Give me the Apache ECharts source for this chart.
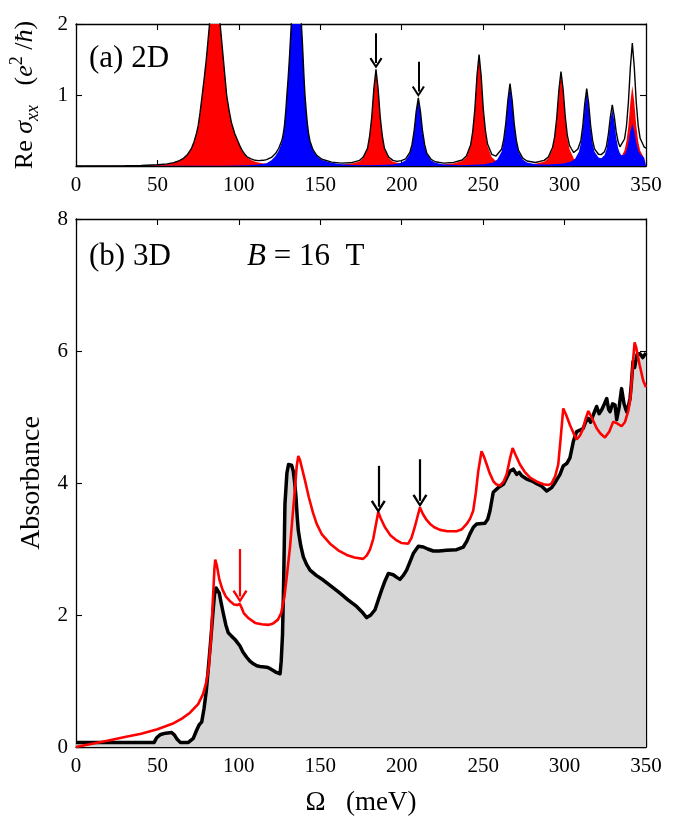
<!DOCTYPE html>
<html>
<head>
<meta charset="utf-8">
<script src="https://cdn.jsdelivr.net/npm/echarts@6/dist/echarts.min.js"></script>
<style>
  html, body { margin: 0; padding: 0; background: #fff; }
  #chart { width: 681px; height: 821px; }
</style>
</head>
<body>
<div id="chart"></div>
<script>
// (a) 2D : Re sigma_xx, red / blue transitions and their sum (black)
var redPeaks = [
  [0,0],[30,0.003],[40,0.006],[50,0.014],[56,0.028],[60,0.045],[62,0.06],[64,0.08],[66,0.105],[68.5,0.16],[71,0.25],[72.5,0.34],[73.8,0.44],[75,0.56],[76.2,0.75],[77.5,1.0],[78.8,1.25],[80,1.5],[81,1.75],[82,2.0],[84,2.6],[85.5,2.8],[87,2.6],[88.5,2.0],[89.5,1.75],[90.5,1.5],[91.5,1.25],[92.5,1.0],[94,0.78],[95.5,0.6],[97.5,0.45],[99.5,0.34],[101,0.26],[102,0.21],[103.5,0.16],[105,0.12],[107.5,0.085],[110,0.06],[112.5,0.045],[115,0.035],[125,0.018],[140,0.01],[158,0.01],
  [168.6,0.03],[173.8,0.06],[176.4,0.11],[179,0.24],[180.3,0.41],[181.6,0.68],[182.9,1.08],[184.2,1.35],[185.5,1.08],[186.8,0.68],[188.1,0.41],[189.4,0.24],[192,0.11],[194.6,0.06],[199.8,0.03],[210,0.012],[221.5,0.015],
  [231.9,0.035],[237.1,0.07],[239.7,0.125],[242.3,0.28],[243.6,0.47],[244.9,0.78],[246.2,1.25],[247.5,1.56],[248.8,1.25],[250.1,0.78],[251.4,0.47],[252.7,0.28],[255.3,0.125],[257.9,0.07],[263.1,0.035],[273.5,0.015],
  [282.2,0.03],[287.4,0.06],[290,0.105],[292.6,0.24],[293.9,0.39],[295.2,0.66],[296.5,1.05],[297.8,1.31],[299.1,1.05],[300.4,0.66],[301.7,0.39],[303,0.24],[305.6,0.105],[308.2,0.065],[313.4,0.035],[320,0.035],[327.2,0.05],
  [332,0.08],[334.4,0.11],[336.8,0.22],[338,0.35],[339.2,0.57],[340.4,0.9],[341.6,1.13],[342.8,0.9],[344,0.57],[345.2,0.35],[346.4,0.22],[348.8,0.11],[350,0.09]
];
var bluePeaks = [
  [0,0],[60,0.002],[90,0.004],[105,0.01],[112,0.02],[117,0.04],[120,0.08],[122.5,0.14],[124.5,0.22],[126.5,0.34],[127.3,0.44],[128,0.55],[128.8,0.76],[129.5,1.0],[130.3,1.25],[131,1.5],[131.6,1.75],[132.2,2.0],[133.8,2.6],[135.3,2.8],[136.8,2.6],[138.4,2.0],[139,1.75],[139.5,1.5],[140,1.25],[140.6,1.0],[141.3,0.78],[142,0.6],[142.8,0.45],[143.7,0.34],[145.5,0.22],[147.8,0.14],[151,0.085],[157,0.045],[163,0.025],[170,0.015],[180,0.01],
  [194.6,0.02],[199.8,0.045],[202.4,0.08],[205,0.17],[206.3,0.285],[207.6,0.475],[208.9,0.76],[210.2,0.95],[211.5,0.76],[212.8,0.475],[214.1,0.285],[215.4,0.17],[218,0.08],[220.6,0.045],[225.8,0.02],[236.2,0.01],
  [250.9,0.025],[256.1,0.05],[258.7,0.09],[261.3,0.2],[262.6,0.34],[263.9,0.57],[265.2,0.91],[266.5,1.14],[267.8,0.91],[269.1,0.57],[270.4,0.34],[271.7,0.2],[274.3,0.09],[276.9,0.05],[282.1,0.025],[290,0.02],
  [299.2,0.035],[304,0.065],[306.4,0.1],[308.8,0.2],[310,0.32],[311.2,0.53],[312.4,0.84],[313.6,1.05],[314.8,0.84],[316,0.53],[317.2,0.32],[318.4,0.2],[320.8,0.12],[322.5,0.11],
  [324.5,0.15],[325.7,0.23],[326.9,0.4],[328.1,0.64],[329.3,0.8],[330.5,0.64],[331.7,0.4],[332.9,0.25],[334,0.18],[335,0.15],
  [336.8,0.16],[338,0.21],[339.2,0.33],[340.4,0.49],[341.6,0.6],[342.8,0.49],[344,0.33],[345.2,0.22],[346.4,0.17],[348.8,0.12],[350,0.11]
];
var sigmaTotal = [
  [0,0],[30,0.004],[40,0.008],[50,0.017],[56,0.03],[60,0.048],[62,0.063],[64,0.083],[66,0.108],[68.5,0.163],[71,0.253],[72.5,0.343],[73.8,0.443],[75,0.565],[76.2,0.755],[77.5,1.0],[78.8,1.25],[80,1.5],[81,1.75],[82,2.0],[84,2.6],[85.5,2.8],[87,2.6],[88.5,2.0],[89.5,1.75],[90.5,1.5],[91.5,1.25],[92.5,1.0],[94,0.785],[95.5,0.605],[97.5,0.455],[99.5,0.345],[101,0.265],[102,0.22],[103.5,0.17],[105,0.13],[107.5,0.1],[110,0.08],[112,0.075],[115,0.08],[117,0.09],[120,0.12],[122.5,0.175],[124.5,0.25],[126.5,0.365],[127.3,0.46],[128,0.57],[128.8,0.775],[129.5,1.0],[130.3,1.25],[131,1.5],[131.6,1.75],[132.2,2.0],[133.8,2.6],[135.3,2.8],[136.8,2.6],[138.4,2.0],[139,1.75],[139.5,1.5],[140,1.25],[140.6,1.0],[141.3,0.79],[142,0.61],[142.8,0.46],[143.7,0.35],[145.5,0.23],[147.8,0.15],[151,0.095],[157,0.055],[163,0.04],
  [168.6,0.045],[173.8,0.075],[176.4,0.125],[179,0.25],[180.3,0.42],[181.6,0.69],[182.9,1.09],[184.2,1.36],[185.5,1.09],[186.8,0.69],[188.1,0.42],[189.4,0.25],[192,0.125],[194.6,0.08],[197,0.065],[199.8,0.075],[202.4,0.1],[205,0.19],[206.3,0.3],[207.6,0.49],[208.9,0.77],[210.2,0.96],[211.5,0.77],[212.8,0.49],[214.1,0.3],[215.4,0.18],[218,0.095],[220.6,0.06],[225.8,0.04],
  [231.9,0.05],[237.1,0.085],[239.7,0.14],[242.3,0.295],[243.6,0.485],[244.9,0.795],[246.2,1.265],[247.5,1.57],[248.8,1.265],[250.1,0.8],[251.4,0.5],[252.7,0.31],[255.3,0.165],[256.1,0.15],[257.9,0.14],[258.7,0.15],[261.3,0.235],[262.6,0.37],[263.9,0.6],[265.2,0.93],[266.5,1.16],[267.8,0.93],[269.1,0.59],[270.4,0.36],[271.7,0.22],[274.3,0.11],[276.9,0.07],[282.1,0.05],
  [287.4,0.08],[290,0.125],[292.6,0.26],[293.9,0.41],[295.2,0.68],[296.5,1.07],[297.8,1.33],[299.1,1.085],[300.4,0.7],[301.7,0.43],[303,0.29],[304,0.25],[305.6,0.19],[306.4,0.175],[308.2,0.24],[308.8,0.26],[310,0.36],[311.2,0.57],[312.4,0.88],[313.6,1.09],[314.8,0.88],[316,0.57],[317.2,0.36],[318.4,0.24],[320.8,0.165],[322.5,0.16],
  [324.5,0.2],[325.7,0.28],[326.9,0.45],[328.1,0.69],[329.3,0.86],[330.5,0.7],[331.7,0.48],[332.9,0.34],[334,0.27],[335,0.25],[336.8,0.38],[338,0.56],[339.2,0.9],[340.4,1.39],[341.6,1.73],[342.8,1.39],[344,0.9],[345.2,0.57],[346.4,0.39],[348.8,0.27],[350,0.25]
];

// (b) 3D : measured absorbance (black, grey fill) and theory (red)
var absExp = [
  [0,0.07],[48,0.07],[49.5,0.14],[52,0.19],[55,0.21],[58.7,0.22],[60.5,0.18],[62,0.12],[64,0.07],[69,0.07],[72,0.13],[74,0.25],[75.5,0.33],[77.2,0.38],[78.6,0.58],[80,0.85],[81.2,1.18],[82.5,1.55],[83.9,1.98],[85,2.3],[86,2.41],[87,2.4],[88,2.33],[89,2.2],[90.4,2.03],[92,1.85],[93.5,1.73],[95.5,1.68],[97.6,1.63],[100.7,1.53],[102.5,1.44],[104.8,1.36],[106.8,1.3],[108.9,1.26],[111,1.23],[113,1.22],[117.1,1.21],[119,1.19],[121.1,1.16],[123,1.13],[125.3,1.11],
  [126,1.3],[126.8,1.7],[127.5,2.5],[128.3,3.68],[129.5,4.15],[130.5,4.28],[131.4,4.31],[132.4,4.27],[133.4,4.18],[134.3,4.0],[135.1,3.78],[135.8,3.5],[136.5,3.28],[138,3.05],[139.6,2.88],[141.5,2.77],[143.7,2.68],[147.5,2.6],[151.8,2.53],[157,2.43],[162.1,2.33],[167,2.23],[172.3,2.13],[175.5,2.05],[178.5,1.96],
  [181,2.0],[183.6,2.08],[185.5,2.22],[187.7,2.38],[189.8,2.52],[191.8,2.63],[194.8,2.61],[197,2.57],[198.9,2.54],[201,2.6],[203,2.68],[205,2.8],[207.1,2.93],[210.2,3.04],[213.3,3.03],[216,3.0],[219.4,2.97],[223,2.97],[227.6,2.98],[233.7,2.99],[237.8,3.03],[240,3.12],[241.9,3.23],[244,3.33],[246,3.38],[251.1,3.39],[252.8,3.45],[254.2,3.58],[256.2,3.86],[259.3,3.93],[262.4,3.98],[264.5,4.08],[266.5,4.18],[268.5,4.21],[270.6,4.13],[272.2,4.16],[273.7,4.11],[276.7,4.06],[280,4.03],[282.9,3.99],[286,3.95],[289,3.88],[292.1,3.93],[294.5,4.02],[297.2,4.13],[299.2,4.26],[301.5,4.3],[303.3,4.38],[305.4,4.63],[307.4,4.78],[309.5,4.8],[311.5,4.83],[313,4.93],[314.6,4.98],[316,4.92],[317.6,5.03],[319.7,5.16],[321.2,5.05],[322.8,5.11],[324.5,5.2],[325.9,5.28],[327,5.12],[327.9,5.08],[329.5,5.2],[331,5.18],[332,4.96],[333.5,5.15],[335,5.43],[336.5,5.2],[338.1,5.08],[339,5.15],[340.2,5.28],[341,5.5],[342,5.84],[343,5.75],[344.5,5.95],[346.3,5.96],[348,5.9],[350,5.97]
];
var absTheory = [
  [0,0.0],[10,0.05],[20,0.1],[30,0.15],[40,0.2],[50,0.27],[60,0.36],[65,0.43],[70,0.52],[75,0.65],[78,0.8],[80,0.98],[81.5,1.2],[83,1.68],[84,2.2],[85,2.7],[85.5,2.84],[86.5,2.75],[88,2.54],[90,2.38],[92,2.28],[95,2.2],[97,2.16],[99,2.15],[100.5,2.17],[101.5,2.12],[103,2.03],[106,1.95],[110,1.88],[114,1.86],[118,1.85],[121,1.87],[124,1.93],[126,2.03],[128,2.28],[129.5,2.6],[131.4,3.03],[133,3.5],[134.5,3.93],[135.5,4.25],[136.5,4.41],[137.5,4.35],[139,4.2],[140.6,4.04],[143,3.78],[145.5,3.55],[147.8,3.38],[151,3.22],[156,3.08],[161,2.98],[166.2,2.91],[171,2.87],[176.3,2.85],
  [178.5,2.9],[180.5,2.99],[182.5,3.15],[184,3.35],[185.6,3.56],[187,3.47],[189.7,3.33],[193,3.21],[196.9,3.13],[200,3.09],[204,3.08],[206,3.17],[208,3.33],[209.8,3.5],[211.2,3.63],[213,3.53],[215,3.45],[217.4,3.38],[220,3.33],[223.5,3.29],[228,3.27],[233.7,3.27],[237,3.3],[239.9,3.38],[242,3.46],[243.9,3.58],[245.5,3.85],[247,4.18],[249,4.48],[250.5,4.4],[252.2,4.28],[254,4.15],[256.2,4.03],[258,3.98],[260.3,3.96],[262.5,4.02],[264.4,4.13],[266.3,4.35],[268.1,4.53],[270,4.42],[272.6,4.28],[275.5,4.17],[278.8,4.08],[283,4.02],[287,3.98],[290,3.97],[292,3.99],[294.2,4.1],[296.1,4.28],[297.5,4.65],[299.2,5.13],[301,5.03],[303.3,4.88],[305.4,4.76],[307.4,4.66],[309.5,4.72],[311.5,4.83],[313,4.98],[314.6,5.09],[316.5,5.0],[319.7,4.83],[322,4.75],[324.8,4.69],[327.5,4.78],[329.9,4.93],[332.5,4.9],[335,4.86],[337,4.92],[339.1,5.09],[340.5,5.3],[342.2,5.9],[343,6.13],[344,6.05],[346,5.8],[348.3,5.55],[350,5.45]
];

// arrows: [x, yStart, yEnd]
var arrowsTop = [[184.2, 1.87, 1.45], [210.2, 1.47, 1.05]];
var arrowsBottomBlack = [[185.6, 4.26, 3.64], [211.2, 4.36, 3.73]];
var arrowsBottomRed = [[100.7, 3.0, 2.28]];

var FONT = 'Liberation Serif';
var chevron = 'path://M5,0 L10,9 L8.6,10 L5,3.2 L1.4,10 L0,9 Z';

function arrowLines(list) {
  return list.map(function (a) {
    return [{ coord: [a[0], a[1]], symbol: 'none' }, { coord: [a[0], a[2]], symbol: chevron }];
  });
}

function axisCommon() {
  return {
    axisLine: { onZero: false, lineStyle: { color: '#000', width: 1.3 } },
    axisTick: { inside: true, length: 6, lineStyle: { color: '#000', width: 1.1 } },
    splitLine: { show: false }
  };
}

function xAx(grid, pos, showLabel) {
  return Object.assign({
    type: 'value', gridIndex: grid, position: pos, min: 0, max: 350, interval: 50,
    axisLabel: { show: showLabel, fontFamily: FONT, fontSize: 21, color: '#000', margin: 9 }
  }, axisCommon());
}
function yAx(grid, pos, max, interval, showLabel, hideZero) {
  return Object.assign({
    type: 'value', gridIndex: grid, position: pos, min: 0, max: max, interval: interval,
    axisLabel: {
      show: showLabel, fontFamily: FONT, fontSize: 21, color: '#000', margin: 8,
      formatter: function (v) { return (hideZero && v === 0) ? '' : String(v); }
    }
  }, axisCommon());
}

var chart = echarts.init(document.getElementById('chart'), null, { renderer: 'canvas' });

var xBottomTop = xAx(0, 'bottom', true);
var xBottomMain = xAx(1, 'bottom', true);
xBottomMain.name = 'Ω   (meV)';
xBottomMain.nameLocation = 'middle';
xBottomMain.nameGap = 42;
xBottomMain.nameTextStyle = { fontFamily: FONT, fontSize: 27, color: '#000' };

var yTopLeft = yAx(0, 'left', 2, 1, true, true);
yTopLeft.name = '{n|Re }{g|σ}{s|xx}{n|   (}{i|e}{p|2}{n| /}{i|ħ}{n|)}';
yTopLeft.nameLocation = 'middle';
yTopLeft.nameGap = 34;
yTopLeft.nameTextStyle = {
  color: '#000',
  rich: {
    n: { fontFamily: FONT, fontSize: 26, lineHeight: 34, color: '#000' },
    g: { fontFamily: FONT, fontSize: 26, lineHeight: 34, fontStyle: 'italic', color: '#000' },
    i: { fontFamily: FONT, fontSize: 26, lineHeight: 34, fontStyle: 'italic', color: '#000' },
    s: { fontFamily: FONT, fontSize: 18, lineHeight: 16, fontStyle: 'italic', verticalAlign: 'bottom', color: '#000' },
    p: { fontFamily: FONT, fontSize: 18, lineHeight: 16, verticalAlign: 'top', color: '#000' }
  }
};

var yMainLeft = yAx(1, 'left', 8, 2, true, false);
yMainLeft.name = 'Absorbance';
yMainLeft.nameLocation = 'middle';
yMainLeft.nameGap = 30;
yMainLeft.nameTextStyle = { fontFamily: FONT, fontSize: 28, color: '#000' };

var option = {
  animation: false,
  backgroundColor: '#fff',
  grid: [
    { left: 76, top: 24, width: 570, height: 142 },
    { left: 76, top: 219, width: 570, height: 533 }
  ],
  xAxis: [xBottomTop, xAx(0, 'top', false), xBottomMain, xAx(1, 'top', false)],
  yAxis: [yTopLeft, yAx(0, 'right', 2, 1, false), yMainLeft, yAx(1, 'right', 8, 2, false)],
  graphic: [
    { type: 'text', left: 89, top: 43, style: { text: '(a) 2D', fontFamily: FONT, fontSize: 31, fill: '#000' } },
    { type: 'text', left: 89, top: 241, style: { text: '(b) 3D', fontFamily: FONT, fontSize: 31, fill: '#000' } },
    { type: 'text', left: 247, top: 241, style: {
        text: '{i|B}{n| = 16  T}', fill: '#000',
        rich: {
          i: { fontFamily: FONT, fontSize: 31, fontStyle: 'italic' },
          n: { fontFamily: FONT, fontSize: 31 }
        }
    } }
  ],
  series: [
    {
      type: 'line', xAxisIndex: 0, yAxisIndex: 0, data: redPeaks, showSymbol: false,
      lineStyle: { width: 0 }, areaStyle: { color: '#ff0000', opacity: 1 }, z: 2, silent: true
    },
    {
      type: 'line', xAxisIndex: 0, yAxisIndex: 0, data: bluePeaks, showSymbol: false,
      lineStyle: { width: 0 }, areaStyle: { color: '#0000ff', opacity: 1 }, z: 3, silent: true
    },
    {
      type: 'line', xAxisIndex: 0, yAxisIndex: 0, data: sigmaTotal, showSymbol: false,
      lineStyle: { color: '#000', width: 1.4 }, z: 4, silent: true,
      markLine: {
        silent: true, symbolSize: [13, 11],
        lineStyle: { color: '#000', width: 2, type: 'solid' },
        label: { show: false },
        data: arrowLines(arrowsTop)
      }
    },
    {
      type: 'line', xAxisIndex: 2, yAxisIndex: 2, data: absExp, showSymbol: false,
      lineStyle: { color: '#000', width: 3.5, join: 'round' },
      areaStyle: { color: '#d6d6d6', opacity: 1 }, z: 2, silent: true,
      markLine: {
        silent: true, symbolSize: [15, 13],
        lineStyle: { color: '#000', width: 2.2, type: 'solid' },
        label: { show: false },
        data: arrowLines(arrowsBottomBlack)
      }
    },
    {
      type: 'line', xAxisIndex: 2, yAxisIndex: 2, data: absTheory, showSymbol: false,
      lineStyle: { color: '#ff0000', width: 2.6 }, z: 3, silent: true,
      markLine: {
        silent: true, symbolSize: [15, 13],
        lineStyle: { color: '#ff0000', width: 2.2, type: 'solid' },
        label: { show: false },
        data: arrowLines(arrowsBottomRed)
      }
    }
  ]
};

chart.setOption(option);
</script>
</body>
</html>
